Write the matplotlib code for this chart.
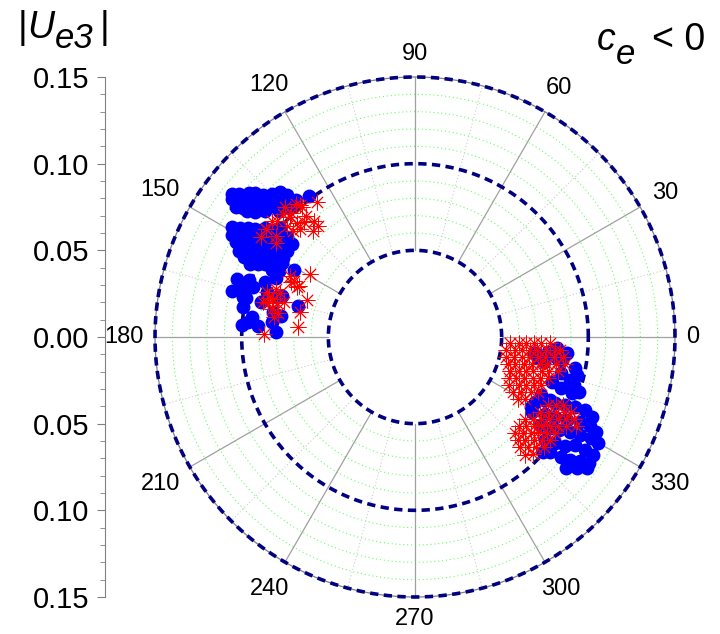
import numpy as np
import matplotlib
matplotlib.use("Agg")
import matplotlib.pyplot as plt

plt.rcParams['font.family'] = ['Liberation Sans', 'DejaVu Sans']

# phase angle (deg) and |Ue3| (x1000) for the two solution branches
blue_a_theta = [142, 141, 139, 138, 137, 135, 133, 132, 143, 142, 141, 139, 138, 136, 135, 133, 131,
                144, 143, 141, 140, 139, 137, 135, 133, 143, 142, 140, 137, 127,
                149, 148, 147, 146, 144, 143, 141, 151, 150, 149, 148, 146, 145, 143, 142,
                152, 151, 150, 149, 147, 146, 144, 143, 154, 152, 151, 150, 149, 147, 146,
                155, 154, 153, 151, 150, 149, 156, 155, 154, 152, 151, 155, 154, 151, 157,
                162, 166, 164, 161, 167, 160, 163, 167, 170, 176, 173, 176, 178, 165, 170,
                167, 163, 164, 163, 171, 174, 175]
blue_a_r = [134, 131, 127, 124, 120, 117, 114, 110, 132, 128, 125, 121, 118, 114, 111, 108, 105,
            128, 124, 120, 117, 113, 110, 106, 104, 121, 117, 113, 107, 102,
            123, 119, 115, 111, 107, 103, 100, 121, 117, 113, 109, 105, 101, 97, 94,
            117, 113, 109, 105, 101, 97, 93, 89, 113, 109, 105, 101, 97, 93, 89,
            109, 105, 101, 97, 93, 89, 104, 100, 96, 92, 88, 91, 87, 80, 87,
            108, 109, 104, 101, 100, 92, 89, 91, 101, 100, 95, 91, 80, 70, 83,
            102, 98, 83, 80, 78, 83, 97]
red_a_theta = [135, 135, 131, 132, 126, 131, 131, 134, 136, 136, 139, 137, 139, 140, 141, 144,
               147, 146, 144, 132, 131, 144, 137, 134,
               154, 155, 156, 149, 156, 161, 168, 175, 157, 165, 161, 167, 166, 169, 167,
               162, 172, 163, 179, 165, 170, 165]
red_a_r = [106, 101, 101, 94, 96, 89, 85, 85, 95, 100, 98, 91, 93, 104, 106, 106,
           106, 97, 99, 103, 99, 106, 104, 92,
           80, 77, 73, 71, 78, 66, 68, 68, 74, 87, 85, 87, 82, 84, 90,
           82, 82, 89, 87, 78, 80, 85]
blue_b_theta = [355.6, 354.0, 351.6, 349.0, 351.2, 346.8, 346.2, 341.8, 344.5, 343.3, 340.6, 341.6,
                352.4, 350.3, 353.6, 349.1, 352.3, 335.1, 335.0, 340.4,
                331.6, 334.1, 334.8, 335.6, 336.4, 336.8, 335.7, 327.3, 329.4, 330.3, 331.5, 332.7,
                333.0, 332.4, 324.9, 326.0, 327.3, 328.5, 329.3, 330.0, 329.8,
                321.6, 322.9, 324.0, 326.0, 326.4, 326.5, 319.6, 320.4, 321.6, 322.9, 324.2,
                319.1, 321.0, 322.7, 328.7, 318.1]
blue_b_r = [82, 88, 83, 94, 86, 96, 87, 83, 93, 96, 89, 100,
            70, 72, 77, 76, 69, 80, 86, 96,
            79, 83, 89, 95, 101, 107, 112, 80, 87, 93, 100, 107,
            113, 118, 88, 94, 99, 105, 111, 117, 122,
            96, 101, 107, 111, 118, 123, 102, 109, 114, 119, 124,
            115, 120, 125, 78, 99]
red_b_theta = [356.4, 356.7, 356.9, 357.1, 357.3, 357.5, 351.9, 352.5, 353.1, 353.6, 354.0, 354.3, 354.7, 354.9,
               347.6, 348.6, 349.4, 350.1, 350.8, 351.3, 351.8, 352.3, 343.8, 345.0, 346.1, 347.0, 347.8,
               348.5, 349.2, 349.8, 340.3, 341.7, 343.0, 344.1, 345.0, 345.9, 346.6,
               336.2, 337.9, 339.4, 340.7, 341.8, 342.9, 333.2, 335.0, 336.6, 338.0, 339.3,
               330.9, 332.8, 334.4, 335.9, 329.0, 330.8, 332.9, 334.3, 335.5, 329.0, 330.6, 332.0, 333.3, 334.5,
               323.3, 325.2, 326.9, 328.5, 330.0, 331.3, 332.6, 319.2, 321.3, 323.2, 325.0, 326.6, 328.1,
               329.5, 330.9, 316.2, 318.4, 320.4, 322.3, 324.0, 325.6, 315.0, 317.1, 319.1, 321.0, 322.7,
               313.7, 315.8, 317.7, 319.5, 313.2, 315.2]
red_b_r = [55, 60, 64, 69, 73, 78, 53, 58, 62, 67, 71, 76, 81, 84,
           54, 58, 63, 67, 72, 76, 81, 86, 56, 60, 65, 69, 74,
           78, 83, 88, 58, 63, 67, 71, 76, 80, 85,
           59, 63, 67, 72, 76, 80, 61, 66, 70, 74, 78,
           65, 69, 74, 78, 69, 73, 86, 90, 94, 84, 88, 92, 96, 100,
           79, 83, 87, 91, 95, 99, 103, 79, 82, 86, 89, 93, 97,
           101, 106, 80, 83, 87, 90, 94, 98, 84, 87, 91, 94, 98,
           88, 91, 94, 98, 93, 96]

angle_ticks = list(range(0, 360, 30))
radial_ticks = [-0.15, -0.10, -0.05, 0.0, 0.05, 0.10, 0.15]
dashed_rings = [0.05, 0.10, 0.15]
dotted_rings = [0.06, 0.07, 0.08, 0.09, 0.11, 0.12, 0.13, 0.14]

W, H = 720, 634
cx, cy, R = 415, 337, 260          # centre and outer ring radius in pixels
RMAX = 0.17
Rax = R * RMAX / 0.15
px = 0.15 / R                       # data units per pixel

fig = plt.figure(figsize=(7.2, 6.34), dpi=100)
ax = fig.add_axes([(cx - Rax) / W, (H - cy - Rax) / H, 2 * Rax / W, 2 * Rax / H],
                  projection='polar')
ax.set_ylim(0, RMAX)
ax.set_xticks([])
ax.set_yticks([])
ax.grid(False)
ax.spines['polar'].set_visible(False)
ax.patch.set_alpha(0)

th = np.linspace(0, 2 * np.pi, 721)
for rr in dotted_rings:
    ax.plot(th, np.full_like(th, rr), color='#66ff66', lw=0.8, ls=(0, (1, 2.5)))
for a in range(15, 360, 30):
    ax.plot([np.radians(a)] * 2, [0.05, 0.15], color='#cccccc', lw=0.8, ls=(0, (1, 2)))
for a in angle_ticks:
    ax.plot([np.radians(a)] * 2, [0.05, 0.15], color='#a0a0a0', lw=0.9)
ax.plot(th, np.full_like(th, 0.15), color='#808080', lw=0.9)
for rr in dashed_rings:
    ax.plot(th, np.full_like(th, rr), color='#000080', lw=2.6, ls=(0, (2.3, 1.5)))

# blue circles first, red asterisks on top
for t, r in [(blue_a_theta, blue_a_r), (blue_b_theta, blue_b_r)]:
    ax.scatter(np.radians(t), np.array(r) / 1000, s=100, color='#0000ff',
               zorder=5, linewidths=0)
for t, r in [(red_a_theta, red_a_r), (red_b_theta, red_b_r)]:
    ax.scatter(np.radians(t), np.array(r) / 1000, s=120, color='#ff0000',
               marker=(8, 2, 0), linewidths=0.65, zorder=6)

# angle labels just outside the outer ring
for a in angle_ticks:
    c, s = np.cos(np.radians(a)), np.sin(np.radians(a))
    w = len(str(a)) * 13.2
    dist = 271 + abs(c) * w / 2 + abs(s) * 12
    if a == 270:
        dist = 282
    ax.text(np.radians(a), dist * px, str(a), ha='center', va='center', fontsize=17)

# left |Ue3| scale
ax2 = fig.add_axes([105 / W, (H - 597) / H, 0.01, 520 / H])
ax2.set_ylim(-0.15, 0.15)
for s in ['top', 'right', 'bottom']:
    ax2.spines[s].set_visible(False)
ax2.spines['left'].set_color('#808080')
ax2.set_xticks([])
ax2.set_yticks(radial_ticks)
ax2.set_yticklabels([f"{abs(v):.2f}" for v in radial_ticks], fontsize=21)
ax2.set_yticks(np.linspace(-0.15, 0.15, 31), minor=True)
ax2.tick_params(axis='y', which='major', length=6, color='#808080', pad=5)
ax2.tick_params(axis='y', which='minor', length=3.5, color='#808080')
ax2.patch.set_alpha(0)


def ftext(x, y, s, **kw):
    fig.text(x / W, 1 - y / H, s, va='baseline', **kw)


ftext(18, 38, "|", fontsize=27)
ftext(27, 38, "U", fontsize=27, style='italic')
ftext(55, 48, "e3", fontsize=25, style='italic')
ftext(100, 38, "|", fontsize=27)
ftext(597, 50, "c", fontsize=27, style='italic')
ftext(616, 64, "e", fontsize=25, style='italic')
ftext(705, 50, "< 0", fontsize=27, ha='right')

fig.savefig('out.png', dpi=100)
